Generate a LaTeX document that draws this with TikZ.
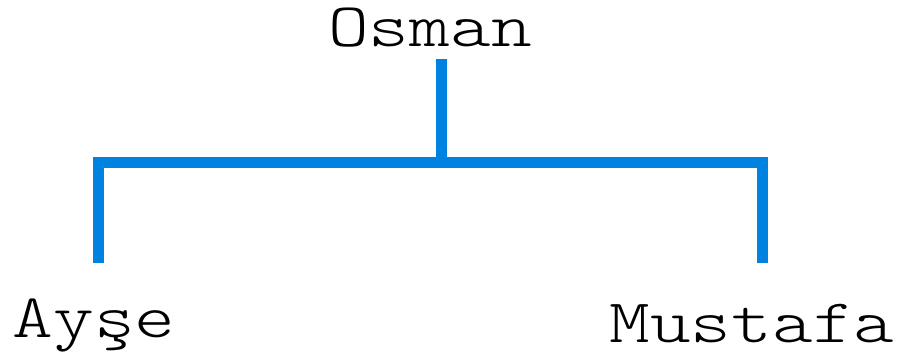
\documentclass[tikz,border=0pt]{standalone}
\usepackage{fontspec}
\newfontfamily\typew{Latin Modern Mono Light}[FakeStretch=1.25]
\definecolor{treeblue}{RGB}{0,130,224}
\begin{document}
\begin{tikzpicture}[x=1bp,y=-1bp,
  person/.style={anchor=base,inner sep=0pt,font=\typew\fontsize{62bp}{66bp}\selectfont},
  branch/.style={draw=treeblue,line width=11bp,line join=miter,line cap=butt}]
\useasboundingbox (0,0) rectangle (898,355);
\node[person] (osman) at (430,46) {Osman};
\node[person] (ayse) at (94,337) {Ayşe};
\node[person] (mustafa) at (752,342) {Mustafa};
\coordinate (otop) at (441,59);
\coordinate (junc) at (441,162);
\coordinate (lend) at (98,263);
\coordinate (rend) at (762,263);
\draw[branch] (otop) -- (junc);
\draw[branch] (lend) -- (lend |- junc) -- (rend |- junc) -- (rend);
\end{tikzpicture}
\end{document}
